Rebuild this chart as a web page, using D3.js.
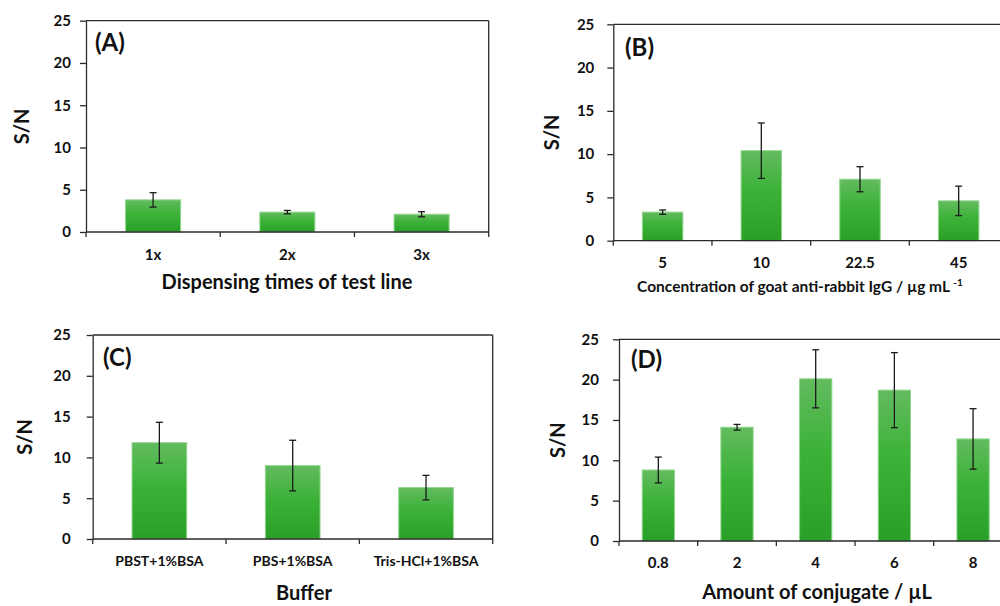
<!DOCTYPE html>
<html>
<head>
<meta charset="utf-8">
<script src="https://cdn.jsdelivr.net/npm/d3@7"></script>
<style>
html,body{margin:0;padding:0;background:#fff;}
svg{display:block;}
text{font-family:Lato, "Open Sans", sans-serif;font-weight:bold;fill:#111;}
</style>
</head>
<body>
<script>
// ---- data ----
const yTicks = [0, 5, 10, 15, 20, 25];

const catsA = ["1x", "2x", "3x"];
const valsA = [3.8, 2.35, 2.1];
const errA  = [0.85, 0.2, 0.3];

const catsB = ["5", "10", "22.5", "45"];
const valsB = [3.3, 10.4, 7.1, 4.6];
const errB  = [0.25, 3.2, 1.45, 1.7];

const catsC = ["PBST+1%BSA", "PBS+1%BSA", "Tris-HCl+1%BSA"];
const valsC = [11.8, 9.0, 6.3];
const errC  = [2.5, 3.1, 1.5];

const catsD = ["0.8", "2", "4", "6", "8"];
const valsD = [8.8, 14.1, 20.1, 18.7, 12.65];
const errD  = [1.6, 0.35, 3.6, 4.65, 3.75];

const panelLabels = ["(A)", "(B)", "(C)", "(D)"];
const yTitle = "S/N";

// ---- layout ----
const panels = [
  {cats: catsA, vals: valsA, errs: errA, label: panelLabels[0],
   x0: 86, x1: 488.7, y0: 20.7, y1: 232, tickLblDx: 15,
   catBase: 259.5, catSize: 15,
   title: "Dispensing times of test line", titleX: 287, titleY: 288.5, titleSize: 20,
   snX: 22, lblX: 95, lblY: 51},
  {cats: catsB, vals: valsB, errs: errB, label: panelLabels[1],
   x0: 613.3, x1: 1008, y0: 24.3, y1: 240.7, tickLblDx: 19,
   catBase: 268, catSize: 15,
   title: "B", titleX: 800, titleY: 292, titleSize: 15.5,
   snX: 552, lblX: 625, lblY: 56},
  {cats: catsC, vals: valsC, errs: errC, label: panelLabels[2],
   x0: 92.7, x1: 492.7, y0: 335, y1: 539, tickLblDx: 22,
   catBase: 566, catSize: 14,
   title: "Buffer", titleX: 304, titleY: 600, titleSize: 20,
   snX: 25, lblX: 103, lblY: 366},
  {cats: catsD, vals: valsD, errs: errD, label: panelLabels[3],
   x0: 619, x1: 1012.4, y0: 339.3, y1: 541, tickLblDx: 20,
   catBase: 568, catSize: 15,
   title: "Amount of conjugate / \u00b5L", titleX: 817, titleY: 598.5, titleSize: 20,
   snX: 558, lblX: 631, lblY: 368}
];

const svg = d3.select("body").append("svg")
  .attr("width", 1000).attr("height", 606);

const defs = svg.append("defs");
const grad = defs.append("linearGradient").attr("id", "barGrad")
  .attr("x1", 0).attr("y1", 0).attr("x2", 0).attr("y2", 1);
grad.append("stop").attr("offset", "0%").attr("stop-color", "#63bb5f");
grad.append("stop").attr("offset", "45%").attr("stop-color", "#3bb237");
grad.append("stop").attr("offset", "100%").attr("stop-color", "#2a9f28");

const axisColor = "#2b2b2b";

panels.forEach((p, pi) => {
  const g = svg.append("g");
  const y = d3.scaleLinear().domain([0, 25]).range([p.y1, p.y0]);
  const xCat = d3.scaleBand().domain(p.cats).range([p.x0, p.x1]).padding(0);
  const xBar = d3.scaleBand().domain(p.cats).range([p.x0, p.x1])
    .paddingInner(0.59).paddingOuter(0.295);

  // frame (top & right)
  g.append("line").attr("x1", p.x0).attr("x2", p.x1).attr("y1", p.y0).attr("y2", p.y0)
    .attr("stroke", axisColor).attr("stroke-width", 1.3);
  g.append("line").attr("x1", p.x1).attr("x2", p.x1).attr("y1", p.y0).attr("y2", p.y1)
    .attr("stroke", axisColor).attr("stroke-width", 1.3);

  // bars
  g.selectAll("rect.bar").data(p.cats).enter().append("rect")
    .attr("x", d => xBar(d))
    .attr("width", xBar.bandwidth())
    .attr("y", (d, i) => y(p.vals[i]))
    .attr("height", (d, i) => y(0) - y(p.vals[i]))
    .attr("fill", "url(#barGrad)")
    .attr("stroke", "#8fd68b").attr("stroke-width", 1);

  // error bars
  const capW = 3.5;
  p.cats.forEach((c, i) => {
    const cx = xBar(c) + xBar.bandwidth() / 2;
    const hi = y(p.vals[i] + p.errs[i]), lo = y(p.vals[i] - p.errs[i]);
    g.append("line").attr("x1", cx).attr("x2", cx).attr("y1", hi).attr("y2", lo)
      .attr("stroke", "#1a1a1a").attr("stroke-width", 1.3);
    [hi, lo].forEach(yy => g.append("line").attr("x1", cx - capW).attr("x2", cx + capW)
      .attr("y1", yy).attr("y2", yy).attr("stroke", "#1a1a1a").attr("stroke-width", 1.3));
  });

  // y axis
  const yAxis = d3.axisLeft(y).tickValues(yTicks).tickSize(6).tickPadding(p.tickLblDx - 6).tickSizeOuter(0);
  const ya = g.append("g").attr("transform", `translate(${p.x0},0)`).call(yAxis);
  ya.select(".domain").attr("stroke", axisColor).attr("stroke-width", 1.3);
  ya.selectAll(".tick line").attr("stroke", axisColor).attr("stroke-width", 1.3);
  ya.selectAll(".tick text").attr("font-size", 15).attr("font-family", "Lato, sans-serif")
    .attr("font-weight", "bold").attr("fill", "#111");

  // x axis line
  g.append("line").attr("x1", p.x0).attr("x2", p.x1).attr("y1", p.y1).attr("y2", p.y1)
    .attr("stroke", axisColor).attr("stroke-width", 1.3);
  // category boundary ticks
  const bounds = p.cats.map(c => xCat(c)).concat([p.x1]);
  g.selectAll("line.xt").data(bounds).enter().append("line")
    .attr("x1", d => d).attr("x2", d => d).attr("y1", p.y1).attr("y2", p.y1 + 5)
    .attr("stroke", axisColor).attr("stroke-width", 1.3);
  // category labels
  g.selectAll("text.cat").data(p.cats).enter().append("text")
    .attr("x", d => xCat(d) + xCat.bandwidth() / 2)
    .attr("y", p.catBase)
    .attr("text-anchor", "middle").attr("font-size", p.catSize)
    .text(d => d);

  // x title
  const t = g.append("text").attr("x", p.titleX).attr("y", p.titleY)
    .attr("text-anchor", "middle").attr("font-size", p.titleSize);
  if (pi === 1) {
    t.append("tspan").text("Concentration of goat anti-rabbit IgG / \u00b5g mL ");
    t.append("tspan").attr("font-size", p.titleSize * 0.65).attr("dy", -6).text("-1");
  } else {
    t.text(p.title);
  }

  // y title
  g.append("text")
    .attr("transform", `translate(${p.snX + 7},${(p.y0 + p.y1) / 2}) rotate(-90)`)
    .attr("text-anchor", "middle").attr("font-size", 20).text(yTitle);

  // panel label
  g.append("text").attr("x", p.lblX).attr("y", p.lblY)
    .attr("font-size", 24).text(p.label);
});
</script>
</body>
</html>
